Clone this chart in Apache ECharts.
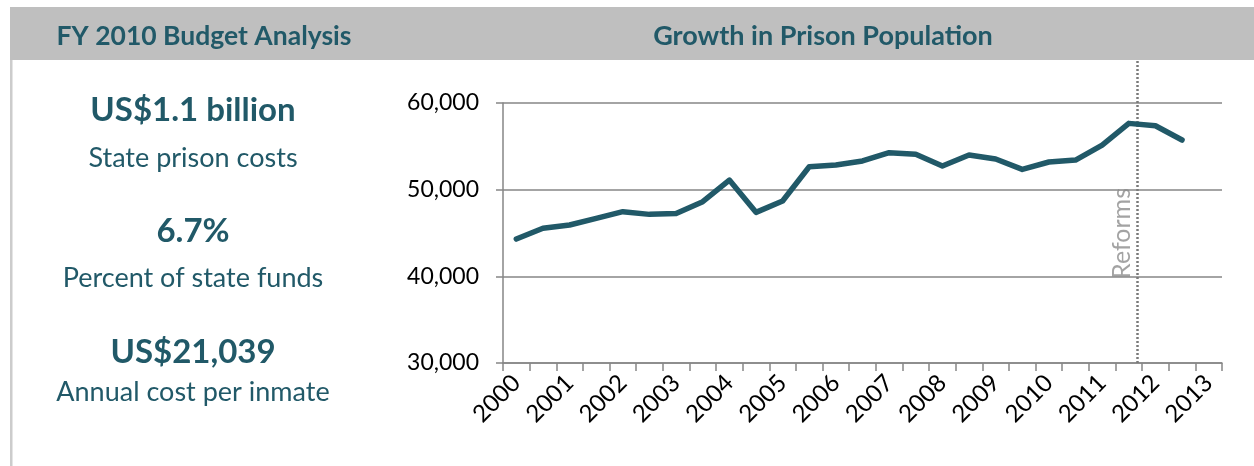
<!DOCTYPE html>
<html>
<head>
<meta charset="utf-8">
<script src="https://cdn.jsdelivr.net/npm/echarts@6/dist/echarts.min.js"></script>
<style>
  html, body { margin: 0; padding: 0; background: #fff; }
  #chart { width: 1254px; height: 466px; }
</style>
</head>
<body>
<div id="chart"></div>
<script>
// half-year periods, 2000 H1 .. 2013 H1
const periods = [];
for (let y = 2000; y <= 2013; y++) {
  periods.push(y + ' H1');
  if (y < 2013) periods.push(y + ' H2');
}

// prison population
const population = [
  44300, 45540, 45920, 46690, 47460, 47150, 47260, 48610, 51110, 47380,
  48690, 52650, 52840, 53310, 54270, 54080, 52730, 54000, 53540, 52340,
  53190, 53420, 55150, 57650, 57380, 55730
];

const yTicks = { min: 30000, max: 60000, step: 10000 };
const reformsYear = 2011.65;

const keyFigures = [
  { value: 'US$1.1 billion', label: 'State prison costs' },
  { value: '6.7%', label: 'Percent of state funds' },
  { value: 'US$21,039', label: 'Annual cost per inmate' }
];

const teal = '#215968';
const grey = '#868686';
const font = 'Lato, "Open Sans", sans-serif';

const chart = echarts.init(document.getElementById('chart'), null, { renderer: 'canvas' });

// left panel: big figure + caption, rows stacked
const figureY = [[110, 158], [231, 278], [352, 392]];
const figureTexts = [];
keyFigures.forEach((f, i) => {
  figureTexts.push({
    type: 'text', position: [193, figureY[i][0]],
    style: { text: f.value, fill: teal, font: 'bold 33px ' + font, textAlign: 'center', textVerticalAlign: 'middle' }
  });
  figureTexts.push({
    type: 'text', position: [193, figureY[i][1]],
    style: { text: f.label, fill: teal, font: '27px ' + font, textAlign: 'center', textVerticalAlign: 'middle' }
  });
});

const option = {
  backgroundColor: '#fff',
  animation: false,
  graphic: [
    { type: 'rect', shape: { x: 10, y: 7, width: 1244, height: 53 }, style: { fill: '#bfbfbf' }, z: -10 },
    { type: 'rect', shape: { x: 10, y: 60, width: 2.5, height: 406 }, style: { fill: '#cccccc' }, z: -10 },
    {
      type: 'text', position: [204, 36],
      style: { text: 'FY 2010 Budget Analysis', fill: teal, font: 'bold 26.5px ' + font, textAlign: 'center', textVerticalAlign: 'middle' }
    },
    {
      type: 'text', position: [823, 36],
      style: { text: 'Growth in Prison Population', fill: teal, font: 'bold 27px ' + font, textAlign: 'center', textVerticalAlign: 'middle' }
    }
  ].concat(figureTexts),
  grid: [
    { left: 503, right: 32, top: 103, bottom: 103 },
    { left: 503, right: 32, top: 60, bottom: 103 }
  ],
  xAxis: [
    {
      type: 'category',
      gridIndex: 0,
      data: periods,
      boundaryGap: true,
      axisLine: { lineStyle: { color: grey, width: 1.5 } },
      axisTick: { show: true, interval: 0, length: 8, lineStyle: { color: grey, width: 1.5 } },
      axisLabel: {
        interval: 1,
        rotate: 45,
        margin: 16,
        color: '#000',
        fontFamily: font,
        fontSize: 24,
        formatter: v => v.slice(0, 4)
      },
      splitLine: { show: false }
    },
    {
      type: 'value',
      gridIndex: 1,
      min: 1999.75,
      max: 2013.25,
      show: false
    }
  ],
  yAxis: [
    {
      type: 'value',
      gridIndex: 0,
      min: yTicks.min,
      max: yTicks.max,
      interval: yTicks.step,
      axisLine: { show: true, lineStyle: { color: grey, width: 1.5 } },
      axisTick: { show: true, length: 7, lineStyle: { color: grey, width: 1.5 } },
      axisLabel: {
        color: '#000',
        fontFamily: font,
        fontSize: 23,
        margin: 24,
        formatter: v => v.toLocaleString('en-US')
      },
      splitLine: { show: true, lineStyle: { color: grey, width: 1.5 } }
    },
    {
      type: 'value',
      gridIndex: 1,
      min: 30000,
      max: 65000,
      show: false
    }
  ],
  series: [
    {
      type: 'line',
      xAxisIndex: 0,
      yAxisIndex: 0,
      data: population,
      symbol: 'none',
      lineStyle: { color: teal, width: 5.5, cap: 'round', join: 'round' },
      z: 5
    },
    {
      type: 'scatter',
      xAxisIndex: 1,
      yAxisIndex: 1,
      data: [[reformsYear, 40000]],
      symbolSize: 1,
      itemStyle: { color: 'rgba(0,0,0,0)' },
      label: {
        show: true,
        formatter: 'Reforms',
        position: [-2, 3],
        rotate: 90,
        align: 'left',
        verticalAlign: 'bottom',
        color: '#8c8c8c',
        fontFamily: font,
        fontSize: 25
      },
      markLine: {
        silent: true,
        symbol: 'none',
        label: { show: false },
        lineStyle: { color: '#7a7a7a', type: [2, 2], width: 2.5 },
        data: [{ xAxis: reformsYear }]
      },
      z: 3
    }
  ]
};

chart.setOption(option);
</script>
</body>
</html>
